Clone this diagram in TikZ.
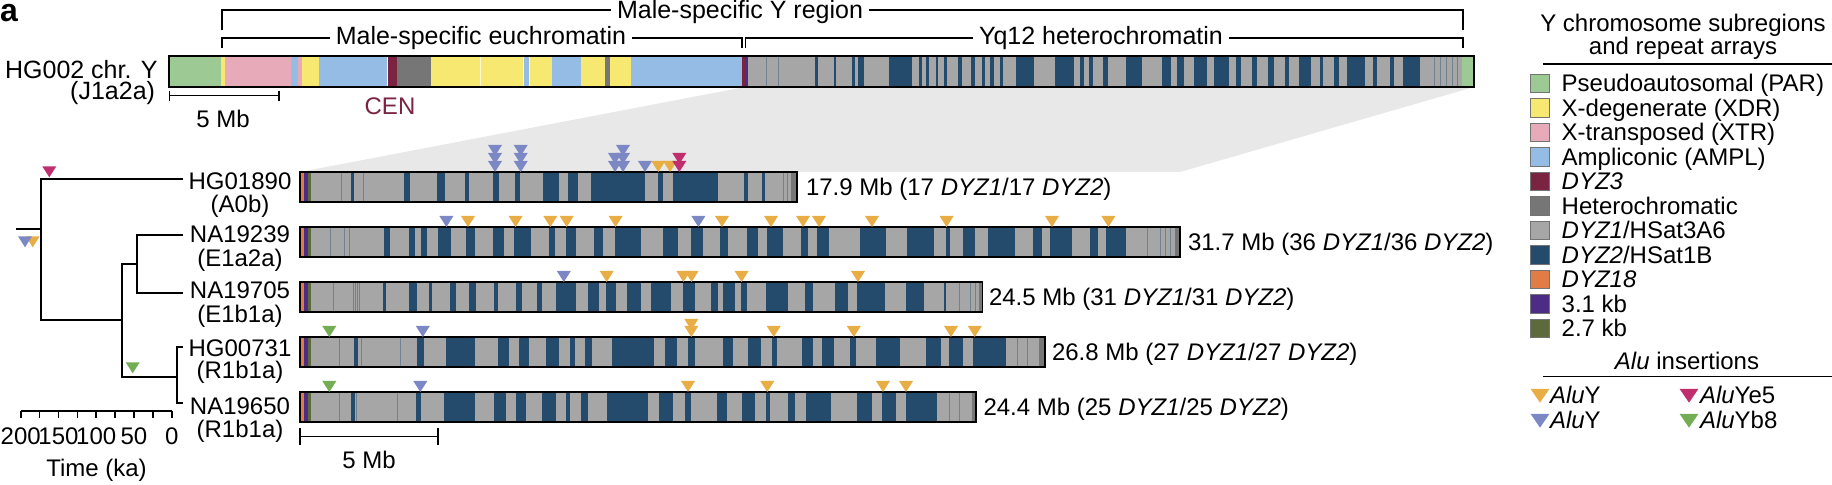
\documentclass[tikz,border=0pt]{standalone}
\usepackage{fontspec}
\setmainfont{Liberation Sans}
\definecolor{cPAR}{RGB}{156,201,148}
\definecolor{cXDR}{RGB}{246,232,112}
\definecolor{cXTR}{RGB}{231,170,184}
\definecolor{cAMPL}{RGB}{148,188,228}
\definecolor{cDYZ3}{RGB}{122,36,66}
\definecolor{cHET}{RGB}{118,118,118}
\definecolor{cDYZ1}{RGB}{166,166,166}
\definecolor{cDYZ2}{RGB}{36,74,108}
\definecolor{cDYZ18}{RGB}{226,124,70}
\definecolor{cKa}{RGB}{76,44,132}
\definecolor{cKb}{RGB}{92,106,60}
\definecolor{aluO}{RGB}{233,173,70}
\definecolor{aluB}{RGB}{124,136,196}
\definecolor{aluM}{RGB}{192,46,110}
\definecolor{aluG}{RGB}{116,174,84}
\definecolor{cFan}{RGB}{232,232,232}
\newcommand\fsz[1]{\fontsize{#1}{#1}\selectfont}
\newcommand\tri[3]{\fill[#1] ({#2-7},{#3-11}) -- ({#2+7},{#3-11}) -- (#2,#3) -- cycle;}
\newcommand\bigtri[3]{\fill[#1] ({#2-9.3},{#3-13.7}) -- ({#2+9.3},{#3-13.7}) -- (#2,#3) -- cycle;}
\newcommand\tris[3]{\foreach \xx in {#3} {\tri{#1}{\xx}{#2}}}
\newcommand\bands[3]{\foreach \a/\b in {#3} {\fill[cDYZ2] (\a,#1) rectangle (\b,#2);}}
\newcommand\thins[3]{\foreach \a in {#3} {\draw[thinln] (\a,#1) -- (\a,#2);}}
\newcommand\sbar[3]{%
  \fill[cDYZ1] (300,#1) rectangle (#3,#2);
  \fill[cDYZ18] (300,#1) rectangle (304,#2);
  \fill[cKa] (304,#1) rectangle (307.5,#2);
  \fill[cKb] (307.5,#1) rectangle (311,#2);}
\tikzset{
  every node/.style={inner sep=0pt, outer sep=0pt, font=\fsz{12}},
  treeln/.style={line width=1pt, line cap=rect},
  brk/.style={line width=0.8pt},
  outl/.style={draw=black, line width=0.8pt},
  thinln/.style={draw=cDYZ2!40!cDYZ1, line width=0.45pt},
  legsq/.style={draw=black!55, line width=0.4pt},
  rule/.style={line width=0.8pt},
}
\begin{document}
\begin{tikzpicture}[x=0.5pt,y=-0.5pt]
\useasboundingbox (0,0) rectangle (1832,485);
% fan
\fill[cFan] (745,87) -- (1474,87) -- (1180,172) -- (300,172) -- cycle;
% panel letter
\node[anchor=base west, font=\fsz{16}\bfseries] (pa) at (0,22) {a};
% brackets
\draw[brk] (222,30) -- (222,10) -- (1463,10) -- (1463,30);
\node[anchor=base, fill=white, inner xsep=3pt, font=\fsz{12.5}] (tmsy) at (740,18.3) {Male-specific Y region};
\draw[brk] (222,48) -- (222,38) -- (742,38) -- (742,48);
\draw[brk] (745.5,48) -- (745.5,38) -- (1463,38) -- (1463,48);
\node[anchor=base, fill=white, inner xsep=3pt, font=\fsz{12.5}] (teu) at (481,45) {Male-specific euchromatin};
\node[anchor=base, fill=white, inner xsep=3pt, font=\fsz{12.5}] (thet) at (1101,45) {Yq12 heterochromatin};
% top bar
\foreach \a/\b/\c in {169/221/cPAR,221/225/cXDR,225/291/cXTR,291/298/cAMPL,298/301.5/cXTR,301.5/319/cXDR,319/388/cAMPL,388/396.5/cDYZ3,396.5/431/cHET,431/523.5/cXDR,523.5/529/cAMPL,529/551.5/cXDR,551.5/580.7/cAMPL,580.7/605/cXDR,605/610/cHET,610/631/cXDR,631/741.5/cAMPL,741.5/744.5/cDYZ3,744.5/747.5/cKa,747.5/1462/cDYZ1,1462/1474/cPAR}
  {\fill[\c] (\a,56) rectangle (\b,87);}
\bands{56}{87}{814.6/817.9,833.5/835.8,852.3/854.7,858/863.7,888.7/912.3,919.4/921.7,926.4/928.8,935.9/938.2,944/946.7,958/961.8,971.3/975,981.7/984.5,990/994,999.6/1003,1016/1033.6,1055.3/1074.2,1079.8/1083.6,1089.3/1093,1103.4/1108,1126/1142,1162.4/1170.5,1176.6/1183.7,1194/1207.3,1214.4/1228.5,1235.6/1241.3,1252/1256.8,1267.7/1274.3,1285/1288.5,1299.3/1311,1319.6/1323,1333.8/1339.4,1346.5/1365.4,1373.4/1377.2,1390.4/1393.7,1403/1419.7}
\thins{56}{87}{766,778,1434,1440,1446,1452,1457}
\foreach \a in {387,480,523.5,529} {\draw[white!70!cXDR, line width=0.4pt] (\a,56) -- (\a,87);}
\draw[outl] (169,56) rectangle (1474,87);
\node[anchor=base east, font=\fsz{12.5}] (hg002) at (157.5,78.6) {HG002 chr. Y};
\node[anchor=base east, font=\fsz{12.5}] (hg002h) at (155,100) {(J1a2a)};
% top scale
\draw[brk] (169.6,90.7) -- (169.6,100.7) (169.6,95.7) -- (278.7,95.7) (278.7,90.7) -- (278.7,100.7);
\node[anchor=base] (s1) at (223,128) {5 Mb};
\node[anchor=base, text=cDYZ3] (cen) at (390,114.6) {CEN};
% ---------- sample bars
% bar 1 HG01890
\sbar{172}{202}{797}
\bands{172}{202}{351.4/353.9,403.9/410.3,437.4/444.6,465/469.2,492.8/499,515/520,542.5/559.4,568.4/578.2,591/645,657.7/663,673/718,744/748.4,762/764.8}
\thins{172}{202}{341.4,363.9,783.5,787}
\fill[cHET] (790.5,172) rectangle (797,202);
\draw[outl] (300,172) rectangle (797,202);
\node[anchor=base west] (m1) at (806,195.6) {17.9 Mb (17 \textit{DYZ1}/17 \textit{DYZ2})};
% bar 2 NA19239
\sbar{227}{257}{1180}
\bands{227}{257}{384.2/390,408.5/415,421/427,437.8/451.4,465.6/474.6,492.8/503.5,514.2/530.6,548.5/555,565.6/575.6,594/603,614.9/641.3,662.7/678,690.6/703,719.8/728,747/758.4,767.3/783.4,801.2/808.4,817.3/828.7,860/886,906.7/933.6,945.8/950,963/975,988/1015,1033.4/1042,1050/1071.5,1089.8/1097.6,1106/1125.8}
\thins{227}{257}{330,344.3,349.6,1147,1160,1165,1170}
\fill[cHET] (1175,227) rectangle (1180,257);
\draw[outl] (300,227) rectangle (1180,257);
\node[anchor=base west] (m2) at (1188,250.6) {31.7 Mb (36 \textit{DYZ1}/36 \textit{DYZ2})};
% bar 3 NA19705
\sbar{282}{312}{982.6}
\bands{282}{312}{382.8/386.4,409.2/417.4,429.2/431.7,449.6/455.6,469.2/475.6,493.5/497.8,515.6/522,537/542.4,555.6/575.6,587.7/598.8,605.6/615.6,627/641.3,650.6/671,682.7/694.8,711.3/718.4,722.7/735,740.5/747,766.2/787.7,804.8/812.6,835/848,857/885,906/924,943.6/945.8}
\thins{282}{312}{333.5,353,355,357,359,959,970,975}
\fill[cHET] (979,282) rectangle (982.6,312);
\draw[outl] (300,282) rectangle (982.6,312);
\node[anchor=base west] (m3) at (989,305.6) {24.5 Mb (31 \textit{DYZ1}/31 \textit{DYZ2})};
% bar 4 HG00731
\sbar{337}{367}{1044.7}
\bands{337}{367}{354/357.5,417.4/423.5,446.4/474.6,497.8/508.5,519.2/528.8,546/559.2,569.9/574.5,585.2/591.7,612/654,664.8/677,687.7/694.8,722.7/732.7,747.7/761.3,772/777,802/812.6,822/834,850/856,875.5/900,926/941.4,949/963,972.7/1005.6}
\thins{337}{367}{339,361.4,400.7,1017,1027}
\fill[cHET] (1039,337) rectangle (1044.7,367);
\draw[outl] (300,337) rectangle (1044.7,367);
\node[anchor=base west] (m4) at (1052,360.6) {26.8 Mb (27 \textit{DYZ1}/27 \textit{DYZ2})};
% bar 5 NA19650
\sbar{392}{422}{976}
\bands{392}{422}{351.4/355,415.7/421,443.5/474.6,494.2/505.6,515.6/525.6,542.4/555.6,566.3/570,581/587.7,606.7/648.4,659/672.7,684.5/690.6,717.3/727,742.3/755,765.5/770,787.7/794.8,805.5/831,857/872,881.6/896,906/937}
\thins{392}{422}{339,356.8,397,949,959}
\fill[cHET] (972,392) rectangle (976,422);
\draw[outl] (300,392) rectangle (976,422);
\node[anchor=base west] (m5) at (983.5,415.6) {24.4 Mb (25 \textit{DYZ1}/25 \textit{DYZ2})};
% bottom scale
\draw[brk] (300,428) -- (300,445) (300,436.7) -- (437.7,436.7) (437.7,428) -- (437.7,445);
\node[anchor=base] (s2) at (369,468.6) {5 Mb};
% ---------- Alu triangles on bars
\tris{aluB}{172}{495,520.7,615,623,645}
\tris{aluB}{164}{495,520.7,615,623}
\tris{aluB}{156}{495,520.7,623}
\tris{aluO}{172}{658.3,670}
\tris{aluM}{172}{679.3}
\tris{aluM}{164}{679.3}
\tris{aluB}{227}{446.4,698.4}
\tris{aluO}{227}{468,515.6,550.3,566.7,615.6,722,771,803,819,872,946.6,1052,1108.4}
\tris{aluB}{282}{563.8}
\tris{aluO}{282}{606.7,683.4,691.6,741.6,858}
\tris{aluG}{337}{329.3}
\tris{aluB}{337}{422.8}
\tris{aluO}{337}{691.3,773.7,853.8,951,974.8}
\tris{aluO}{330}{691.3}
\tris{aluG}{392}{329.3}
\tris{aluB}{392}{420.3}
\tris{aluO}{392}{688,767.3,883,906}
% ---------- tree
\coordinate (r0) at (17,229);
\coordinate (n0) at (40.7,229);
\coordinate (t1) at (181.7,179.3);
\coordinate (n1) at (121.7,320);
\coordinate (n2) at (137.3,264.3);
\coordinate (t2) at (181.7,235);
\coordinate (t3) at (181.7,292.7);
\coordinate (n3) at (176.7,376.7);
\coordinate (t4) at (182,347.3);
\coordinate (t5) at (182,403.3);
\draw[treeln] (r0) -- (n0);
\draw[treeln] (n0) |- (t1);
\draw[treeln] (n0) |- (n1);
\draw[treeln] (n1) |- (n2);
\draw[treeln] (n1) |- (n3);
\draw[treeln] (n2) |- (t2);
\draw[treeln] (n2) |- (t3);
\draw[treeln] (n3) |- (t4);
\draw[treeln] (n3) |- (t5);
\tri{aluM}{49.3}{177.3}
\tri{aluO}{32.7}{247.3}
\tri{aluB}{25}{247.3}
\tri{aluG}{132.7}{373.3}
% leaf labels
\node[anchor=base] (l1) at (240,189.3) {HG01890};
\node[anchor=base] (l1h) at (240,213) {(A0b)};
\node[anchor=base] (l2) at (240,242.6) {NA19239};
\node[anchor=base] (l2h) at (240,266.5) {(E1a2a)};
\node[anchor=base] (l3) at (240,298.6) {NA19705};
\node[anchor=base] (l3h) at (240,323) {(E1b1a)};
\node[anchor=base] (l4) at (240,356.9) {HG00731};
\node[anchor=base] (l4h) at (240,379) {(R1b1a)};
\node[anchor=base] (l5) at (240,414.6) {NA19650};
\node[anchor=base] (l5h) at (240,438) {(R1b1a)};
% time axis
\draw[brk] (20.7,411) -- (171.7,411);
\foreach \i in {0,...,8} {\draw[brk] ({20.7+18.875*\i},411) -- ({20.7+18.875*\i},418);}
\foreach \v/\xx in {200/20.7,150/58.45,100/96.2,50/133.95,0/171.7}
  {\node[anchor=base] at (\xx,445) {\v};}
\node[anchor=base] (tka) at (96.5,476.7) {Time (ka)};
% ---------- legend
\node[anchor=base] (lg1) at (1683,31.7) {Y chromosome subregions};
\node[anchor=base] (lg2) at (1683,55) {and repeat arrays};
\draw[rule] (1542.7,64) -- (1832,64);
\foreach \c/\t [count=\i from 0] in {cPAR/{Pseudoautosomal (PAR)},cXDR/{X-degenerate (XDR)},cXTR/{X-transposed (XTR)},cAMPL/{Ampliconic (AMPL)},cDYZ3/{\textit{DYZ3}},cHET/{Heterochromatic},cDYZ1/{\textit{DYZ1}/HSat3A6},cDYZ2/{\textit{DYZ2}/HSat1B},cDYZ18/{\textit{DYZ18}},cKa/{3.1 kb},cKb/{2.7 kb}}
  {\pgfmathsetmacro\yy{83.3+24.5*\i}
   \filldraw[legsq, fill=\c] (1530.7,\yy-9.3) rectangle (1549.3,\yy+9.3);
   \node[anchor=base west] at (1561.7,\yy+8.6) {\t};}
\node[anchor=base] (lg3) at (1687,369.3) {\textit{Alu} insertions};
\draw[rule] (1542.7,376.7) -- (1832,376.7);
\bigtri{aluO}{1540}{402.7}
\bigtri{aluB}{1540}{427.7}
\bigtri{aluM}{1689}{402.7}
\bigtri{aluG}{1689}{427.7}
\node[anchor=base west] at (1550,403.6) {\textit{Alu}Y};
\node[anchor=base west] at (1550,428.6) {\textit{Alu}Y};
\node[anchor=base west] at (1700,403.6) {\textit{Alu}Ye5};
\node[anchor=base west] at (1700,428.6) {\textit{Alu}Yb8};
\end{tikzpicture}
\end{document}
